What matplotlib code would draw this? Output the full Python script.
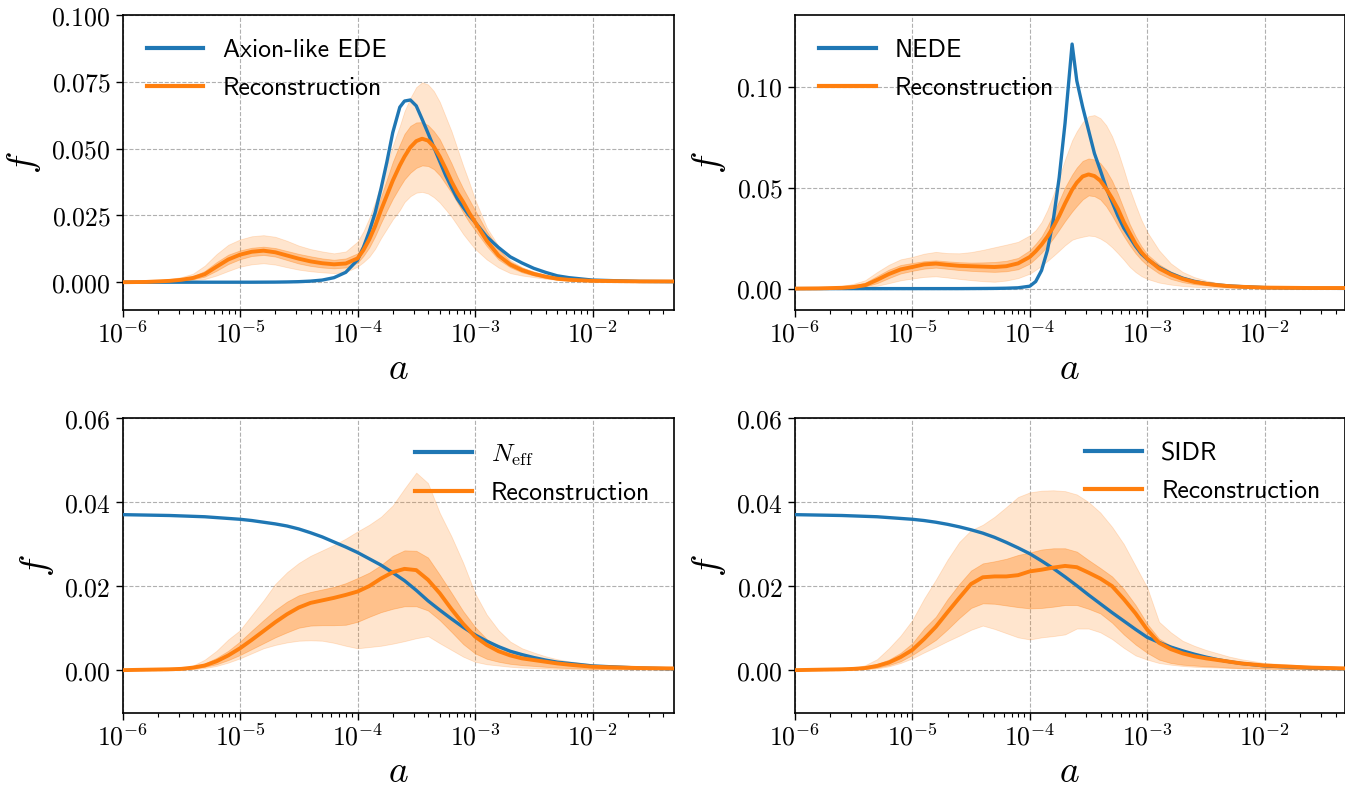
import numpy as np
import matplotlib
matplotlib.use("Agg")
import matplotlib.pyplot as plt
from matplotlib.ticker import FuncFormatter, LogLocator, NullFormatter, FixedLocator
from matplotlib.font_manager import FontProperties

plt.rcParams['mathtext.fontset'] = 'cm'

# log10(a) sample grids
loga_top = [-6, -5.8, -5.6, -5.5, -5.4, -5.3, -5.2, -5.1, -5.0, -4.9,
            -4.8, -4.7, -4.6, -4.5, -4.4, -4.3, -4.2, -4.1, -4.0, -3.95,
            -3.9, -3.85, -3.8, -3.75, -3.7, -3.64, -3.6, -3.55, -3.5, -3.45,
            -3.4, -3.35, -3.3, -3.25, -3.2, -3.15, -3.1, -3.05, -3.0, -2.9,
            -2.8, -2.7, -2.6, -2.5, -2.4, -2.3, -2.2, -2.0, -1.6, -1.3]
loga_bot = [-6, -5.8, -5.6, -5.5, -5.4, -5.3, -5.2, -5.1, -5.0, -4.9,
            -4.8, -4.7, -4.6, -4.5, -4.4, -4.3, -4.2, -4.1, -4.0, -3.9,
            -3.8, -3.7, -3.6, -3.5, -3.4, -3.3, -3.2, -3.1, -3.0, -2.9,
            -2.8, -2.7, -2.6, -2.5, -2.4, -2.3, -2.2, -2.0, -1.6, -1.3]

# ---------------- Panel 1: Axion-like EDE ----------------
ede_true = [0, 0, 0, 0, 0, 0, 0, 0, 0, 0,
            0.00002, 0.00004, 0.0001, 0.0002, 0.0004, 0.0008, 0.0017, 0.0037, 0.0083, 0.013,
            0.019, 0.026, 0.035, 0.045, 0.056, 0.0655, 0.0678, 0.0682, 0.0660, 0.0610,
            0.0558, 0.0505, 0.0452, 0.0400, 0.0355, 0.0312, 0.028, 0.025, 0.0225, 0.017,
            0.0130, 0.0095, 0.0072, 0.0052, 0.0037, 0.0024, 0.0017, 0.0008, 0.0003, 0.0002]
ede_mean = [0, 0.0001, 0.0005, 0.0009, 0.0016, 0.003, 0.0058, 0.0085, 0.0103, 0.0114,
            0.0118, 0.0112, 0.0100, 0.0088, 0.0078, 0.0071, 0.0067, 0.0070, 0.0089, 0.012,
            0.016, 0.021, 0.027, 0.0325, 0.038, 0.0437, 0.047, 0.0505, 0.0528, 0.0537,
            0.0530, 0.0507, 0.0470, 0.0425, 0.0377, 0.0335, 0.030, 0.026, 0.0225, 0.0155,
            0.010, 0.0066, 0.0045, 0.0031, 0.0021, 0.0013, 0.0009, 0.0005, 0.0003, 0.0003]
ede_in_hi = [0, 0.0002, 0.0008, 0.0013, 0.0022, 0.0042, 0.0075, 0.0103, 0.0119, 0.0129,
             0.0133, 0.0128, 0.0117, 0.0106, 0.0097, 0.0089, 0.0084, 0.0089, 0.0108, 0.0145,
             0.019, 0.025, 0.032, 0.0385, 0.045, 0.0515, 0.0555, 0.0585, 0.0598, 0.0599,
             0.0588, 0.0565, 0.0535, 0.049, 0.0445, 0.0395, 0.035, 0.031, 0.027, 0.019,
             0.0125, 0.0077, 0.0055, 0.004, 0.0028, 0.0017, 0.0011, 0.0006, 0.0004, 0.0003]
ede_in_lo = [0, 0.0001, 0.0003, 0.0006, 0.0011, 0.0021, 0.0043, 0.0068, 0.0086, 0.0098,
             0.0102, 0.0096, 0.0083, 0.007, 0.0061, 0.0055, 0.0052, 0.0055, 0.0073, 0.0098,
             0.013, 0.0172, 0.0222, 0.0268, 0.0312, 0.0357, 0.0385, 0.041, 0.0428, 0.0437,
             0.0435, 0.0423, 0.040, 0.0368, 0.0335, 0.0298, 0.026, 0.0225, 0.0195, 0.0135,
             0.0085, 0.0056, 0.0037, 0.0025, 0.0016, 0.001, 0.0007, 0.0004, 0.0002, 0.0002]
ede_out_hi = [0, 0.0003, 0.0012, 0.0019, 0.0032, 0.0062, 0.0105, 0.014, 0.016, 0.0172,
              0.0176, 0.017, 0.0155, 0.0137, 0.0124, 0.0115, 0.0108, 0.0115, 0.0152, 0.019,
              0.024, 0.030, 0.037, 0.044, 0.051, 0.0585, 0.064, 0.069, 0.073, 0.0748,
              0.074, 0.0715, 0.0675, 0.062, 0.0565, 0.050, 0.0435, 0.0375, 0.031, 0.0205,
              0.0135, 0.0083, 0.0056, 0.0036, 0.0025, 0.0016, 0.0011, 0.0007, 0.0004, 0.0004]
ede_out_lo = [0, 0.0, 0.0002, 0.0004, 0.0007, 0.0012, 0.0025, 0.0042, 0.0058, 0.0067,
              0.0071, 0.0066, 0.0056, 0.0047, 0.0041, 0.0037, 0.0034, 0.0038, 0.0058, 0.0075,
              0.0095, 0.0125, 0.0165, 0.020, 0.0235, 0.027, 0.030, 0.0322, 0.0335, 0.0338,
              0.0332, 0.0318, 0.0298, 0.0272, 0.0245, 0.0213, 0.018, 0.0152, 0.0125, 0.0085,
              0.0055, 0.0034, 0.0025, 0.0019, 0.0013, 0.0009, 0.0006, 0.0004, 0.0002, 0.0002]

# ---------------- Panel 2: NEDE ----------------
nede_true = [0, 0, 0, 0, 0, 0, 0, 0, 0, 0,
             0, 0, 0, 0.00003, 0.00006, 0.0001, 0.0002, 0.0004, 0.0012, 0.0035,
             0.009, 0.019, 0.034, 0.055, 0.082, 0.1212, 0.103, 0.090, 0.0785, 0.067,
             0.0587, 0.050, 0.043, 0.036, 0.030, 0.0255, 0.021, 0.0172, 0.0145, 0.0105,
             0.0075, 0.0052, 0.0036, 0.0025, 0.0018, 0.0013, 0.001, 0.0005, 0.0002, 0.0001]
nede_mean = [0, 0.0001, 0.0004, 0.0008, 0.0017, 0.0043, 0.0072, 0.0095, 0.0107, 0.0120,
             0.0124, 0.0118, 0.0113, 0.0111, 0.0109, 0.0107, 0.0111, 0.0125, 0.0157, 0.0185,
             0.0218, 0.0258, 0.0305, 0.036, 0.0422, 0.049, 0.0525, 0.0556, 0.0566, 0.0558,
             0.0535, 0.0495, 0.0448, 0.0395, 0.0330, 0.0275, 0.0222, 0.0180, 0.0148, 0.0100,
             0.0070, 0.0048, 0.0033, 0.0024, 0.0017, 0.0012, 0.0009, 0.0005, 0.0003, 0.0003]
nede_in_hi = [0, 0.0002, 0.0008, 0.0015, 0.003, 0.0062, 0.0094, 0.0117, 0.0127, 0.0136,
              0.014, 0.0135, 0.0131, 0.0129, 0.013, 0.0132, 0.0138, 0.0152, 0.019, 0.0222,
              0.0258, 0.031, 0.037, 0.0435, 0.0502, 0.0565, 0.060, 0.0633, 0.0645, 0.0640,
              0.0622, 0.0585, 0.0535, 0.0470, 0.0395, 0.032, 0.026, 0.021, 0.017, 0.012,
              0.0085, 0.006, 0.0042, 0.003, 0.0021, 0.0015, 0.0011, 0.0007, 0.0004, 0.0003]
nede_in_lo = [0, 0.0001, 0.0003, 0.0005, 0.0011, 0.0027, 0.0052, 0.0075, 0.0088, 0.0099,
              0.0104, 0.0098, 0.0092, 0.0088, 0.0085, 0.0083, 0.0086, 0.0096, 0.0124, 0.015,
              0.0178, 0.0212, 0.025, 0.0292, 0.0335, 0.0382, 0.041, 0.0442, 0.0462, 0.0458,
              0.0442, 0.0408, 0.0362, 0.031, 0.026, 0.0215, 0.0175, 0.0142, 0.0115, 0.0075,
              0.0048, 0.0032, 0.0022, 0.0016, 0.0011, 0.0008, 0.0006, 0.0004, 0.0002, 0.0002]
nede_out_hi = [0, 0.0003, 0.0013, 0.0024, 0.0042, 0.0082, 0.0118, 0.0145, 0.0157, 0.0173,
               0.0182, 0.0176, 0.0175, 0.0181, 0.0192, 0.0205, 0.0218, 0.0232, 0.0264, 0.029,
               0.033, 0.039, 0.0465, 0.055, 0.064, 0.0735, 0.078, 0.0825, 0.0855, 0.086,
               0.0845, 0.081, 0.0755, 0.068, 0.059, 0.0495, 0.0415, 0.034, 0.028, 0.019,
               0.0125, 0.0083, 0.0057, 0.004, 0.0028, 0.002, 0.0014, 0.0009, 0.0005, 0.0004]
nede_out_lo = [0, 0.0, 0.0002, 0.0003, 0.0006, 0.0014, 0.0027, 0.0041, 0.005, 0.0058,
               0.0061, 0.0055, 0.0048, 0.0042, 0.0037, 0.0034, 0.004, 0.0052, 0.0074, 0.0093,
               0.0114, 0.0137, 0.0162, 0.0188, 0.0215, 0.0242, 0.025, 0.0257, 0.0263, 0.026,
               0.0248, 0.023, 0.0205, 0.0175, 0.0143, 0.0108, 0.0082, 0.0062, 0.0048, 0.003,
               0.002, 0.0013, 0.0009, 0.0007, 0.0005, 0.0004, 0.0003, 0.0002, 0.0001, 0.0001]

# ---------------- Panel 3: N_eff ----------------
neff_true = [0.0370, 0.0369, 0.0368, 0.0367, 0.0366, 0.0365, 0.0363, 0.0361, 0.0359, 0.0356,
             0.0352, 0.0348, 0.0343, 0.0336, 0.0327, 0.0317, 0.0305, 0.0293, 0.0280, 0.0265,
             0.0250, 0.0232, 0.0213, 0.0190, 0.0165, 0.0143, 0.0122, 0.0102, 0.0084, 0.0069,
             0.0056, 0.0045, 0.0037, 0.0030, 0.0024, 0.0019, 0.0016, 0.0010, 0.0005, 0.0003]
neff_mean = [0, 0.0001, 0.0002, 0.0003, 0.0006, 0.0011, 0.0021, 0.0035, 0.0052, 0.0072,
             0.0093, 0.0114, 0.0133, 0.0149, 0.016, 0.0166, 0.0172, 0.0179, 0.0187, 0.0200,
             0.0218, 0.0233, 0.0241, 0.0238, 0.0215, 0.0183, 0.0145, 0.011, 0.008, 0.006,
             0.0045, 0.0035, 0.0028, 0.0024, 0.002, 0.0016, 0.0013, 0.0008, 0.0005, 0.0004]
neff_in_hi = [0, 0.0001, 0.0002, 0.0005, 0.0009, 0.0016, 0.0029, 0.0046, 0.0068, 0.0094,
              0.0119, 0.0143, 0.0163, 0.0178, 0.0186, 0.0192, 0.0198, 0.0207, 0.0219, 0.0232,
              0.0250, 0.0272, 0.0285, 0.0284, 0.0268, 0.0227, 0.0184, 0.014, 0.0103, 0.0074,
              0.0055, 0.0043, 0.0035, 0.003, 0.0025, 0.002, 0.0017, 0.001, 0.0006, 0.0005]
neff_in_lo = [0, 0.0, 0.0001, 0.0002, 0.0004, 0.0008, 0.0014, 0.0024, 0.0036, 0.005,
              0.0064, 0.0078, 0.009, 0.0101, 0.0106, 0.0107, 0.0107, 0.0108, 0.0115, 0.0127,
              0.0138, 0.0146, 0.0152, 0.0152, 0.0142, 0.0119, 0.0091, 0.0062, 0.004, 0.0027,
              0.002, 0.0015, 0.0012, 0.001, 0.0008, 0.0006, 0.0005, 0.0003, 0.0002, 0.0002]
neff_out_hi = [0, 0.0001, 0.0002, 0.0005, 0.0011, 0.0025, 0.0046, 0.0073, 0.0095, 0.0131,
               0.0166, 0.0205, 0.0233, 0.0255, 0.0272, 0.0285, 0.0298, 0.0313, 0.033, 0.0346,
               0.0365, 0.0392, 0.0432, 0.047, 0.0445, 0.0374, 0.0318, 0.0255, 0.0183, 0.0132,
               0.0095, 0.0068, 0.0052, 0.0042, 0.0033, 0.0026, 0.0021, 0.0014, 0.0008, 0.0006]
neff_out_lo = [0, 0, 0, 0.0001, 0.0002, 0.0005, 0.001, 0.0018, 0.0028, 0.004,
               0.0052, 0.006, 0.0066, 0.007, 0.0071, 0.007, 0.0065, 0.0058, 0.0052, 0.0055,
               0.0058, 0.0063, 0.0069, 0.0076, 0.0081, 0.0064, 0.0048, 0.0032, 0.002, 0.0014,
               0.0011, 0.0008, 0.0006, 0.0005, 0.0004, 0.0003, 0.0003, 0.0002, 0.0002, 0.0002]

# ---------------- Panel 4: SIDR ----------------
sidr_true = [0.0370, 0.0369, 0.0368, 0.0367, 0.0366, 0.0365, 0.0363, 0.0361, 0.0359, 0.0356,
             0.0352, 0.0347, 0.0341, 0.0334, 0.0326, 0.0316, 0.0304, 0.0291, 0.0277, 0.0260,
             0.0242, 0.0222, 0.0201, 0.0179, 0.0158, 0.0137, 0.0117, 0.0097, 0.0078, 0.0066,
             0.0055, 0.0046, 0.0038, 0.0031, 0.0025, 0.0020, 0.0016, 0.0010, 0.0005, 0.0003]
sidr_mean = [0, 0.0001, 0.0002, 0.0003, 0.0005, 0.001, 0.0018, 0.0031, 0.0048, 0.0074,
             0.0103, 0.0138, 0.0172, 0.0205, 0.0221, 0.0223, 0.0223, 0.0226, 0.0235, 0.0239,
             0.0244, 0.0248, 0.0245, 0.0232, 0.0218, 0.0200, 0.0169, 0.0135, 0.0096, 0.0065,
             0.005, 0.004, 0.0033, 0.0028, 0.0024, 0.002, 0.0016, 0.0011, 0.0006, 0.0004]
sidr_in_hi = [0, 0.0001, 0.0002, 0.0005, 0.0009, 0.0015, 0.0025, 0.0041, 0.0064, 0.0099,
              0.0127, 0.0169, 0.0205, 0.0237, 0.0254, 0.0259, 0.0265, 0.0274, 0.028, 0.0287,
              0.029, 0.029, 0.0282, 0.0262, 0.0243, 0.0223, 0.0193, 0.0155, 0.011, 0.0075,
              0.0058, 0.0047, 0.0039, 0.0033, 0.0028, 0.0023, 0.0019, 0.0014, 0.0008, 0.0006]
sidr_in_lo = [0, 0, 0.0001, 0.0002, 0.0003, 0.0006, 0.0012, 0.0021, 0.0036, 0.0054,
              0.0072, 0.0097, 0.0124, 0.0148, 0.0159, 0.0158, 0.0154, 0.015, 0.0147, 0.0148,
              0.0151, 0.0155, 0.0155, 0.0146, 0.0135, 0.0113, 0.0085, 0.0061, 0.0041, 0.0025,
              0.0017, 0.0013, 0.0011, 0.0009, 0.0008, 0.0006, 0.0005, 0.0004, 0.0002, 0.0002]
sidr_out_hi = [0, 0.0001, 0.0002, 0.0005, 0.0012, 0.0026, 0.0052, 0.0082, 0.0119, 0.017,
               0.0215, 0.0263, 0.0305, 0.0333, 0.0346, 0.0365, 0.0388, 0.0412, 0.0423, 0.0427,
               0.0428, 0.0426, 0.0418, 0.040, 0.0375, 0.0341, 0.030, 0.0248, 0.0196, 0.0115,
               0.009, 0.007, 0.0058, 0.0048, 0.004, 0.0032, 0.0026, 0.0017, 0.001, 0.0007]
sidr_out_lo = [0, 0, 0, 0.0001, 0.0002, 0.0004, 0.0009, 0.0017, 0.0028, 0.0042,
               0.0055, 0.0069, 0.0082, 0.0096, 0.0106, 0.0098, 0.0088, 0.0078, 0.0073, 0.0078,
               0.0081, 0.0085, 0.0099, 0.0099, 0.009, 0.0074, 0.0053, 0.0035, 0.0025, 0.0017,
               0.0013, 0.001, 0.0008, 0.0007, 0.0006, 0.0005, 0.0004, 0.0003, 0.0002, 0.0001]

model_labels = ["Axion-like EDE", "NEDE", r"$N_{\rm eff}$", "SIDR"]
recon_label = "Reconstruction"
y_ticks = [[0.0, 0.025, 0.05, 0.075, 0.1], [0.0, 0.05, 0.10], [0.0, 0.02, 0.04, 0.06], [0.0, 0.02, 0.04, 0.06]]
y_decimals = [3, 2, 2, 2]
y_limits = [(-0.0104, 0.1), (-0.0106, 0.1356), (-0.0102, 0.06), (-0.0102, 0.06)]
legend_locs = ["upper left", "upper left", "upper right", "upper right"]
x_major = [1e-6, 1e-5, 1e-4, 1e-3, 1e-2]

panels = [
    (loga_top, ede_mean, ede_in_lo, ede_in_hi, ede_out_lo, ede_out_hi, ede_true),
    (loga_top, nede_mean, nede_in_lo, nede_in_hi, nede_out_lo, nede_out_hi, nede_true),
    (loga_bot, neff_mean, neff_in_lo, neff_in_hi, neff_out_lo, neff_out_hi, neff_true),
    (loga_bot, sidr_mean, sidr_in_lo, sidr_in_hi, sidr_out_lo, sidr_out_hi, sidr_true),
]
for p in panels:
    for arr in p[1:]:
        assert len(arr) == len(p[0]), (len(arr), len(p[0]))

W, H = 1345, 790
fig = plt.figure(figsize=(W / 100, H / 100), dpi=100)

boxes = [
    (122.5, 15, 552, 295),
    (794.8, 15, 550, 295),
    (122.5, 418, 552, 295),
    (794.8, 418, 550, 295),
]
blue = '#1f77b4'
orange = '#ff7f0e'
leg_font = FontProperties(family='cmss10', size=18.5)

for i, (box, data) in enumerate(zip(boxes, panels)):
    x0, y0, w, h = box
    ax = fig.add_axes([x0 / W, 1 - (y0 + h) / H, w / W, h / H])
    la, mean, ilo, ihi, olo, ohi, tv = data
    a = 10.0 ** np.array(la)

    ax.fill_between(a, olo, ohi, color=orange, alpha=0.2, lw=0.6)
    ax.fill_between(a, ilo, ihi, color=orange, alpha=0.35, lw=0.6)
    ax.plot(a, tv, color=blue, lw=2.4, label=model_labels[i], zorder=3,
            solid_joinstyle='round')
    ax.plot(a, mean, color=orange, lw=2.8, label=recon_label, zorder=4,
            solid_joinstyle='round')

    ax.set_xscale('log')
    ax.set_xlim(1e-6, 10 ** (-6 + w / 117.5))
    ax.set_ylim(*y_limits[i])
    ax.xaxis.set_major_locator(FixedLocator(x_major))
    ax.xaxis.set_minor_locator(LogLocator(base=10, subs=np.arange(2, 10), numticks=20))
    ax.xaxis.set_minor_formatter(NullFormatter())
    ax.xaxis.set_major_formatter(FuncFormatter(lambda v, p: r'$10^{%d}$' % int(round(np.log10(v)))))
    ax.yaxis.set_major_locator(FixedLocator(y_ticks[i]))
    d = y_decimals[i]
    ax.yaxis.set_major_formatter(FuncFormatter(lambda v, p, d=d: r'$%.*f$' % (d, v)))

    ax.grid(True, which='major', ls='--', color='#b0b0b0', lw=0.8)
    ax.set_axisbelow(True)
    ax.tick_params(which='major', labelsize=18.5, length=5, width=1.0)
    ax.tick_params(which='minor', length=2.8, width=0.8)
    for s in ax.spines.values():
        s.set_linewidth(1.2)

    ax.set_xlabel(r'$a$', fontsize=27, labelpad=2)
    ax.set_ylabel(r'$f$', fontsize=27, labelpad=6)

    leg = ax.legend(loc=legend_locs[i], frameon=False, prop=leg_font,
                    handlelength=2.2, handletextpad=0.75, labelspacing=0.55,
                    borderaxespad=0.5, borderpad=0.45)
    for line in leg.get_lines():
        line.set_linewidth(3.0)

fig.savefig('out.png', dpi=100)
